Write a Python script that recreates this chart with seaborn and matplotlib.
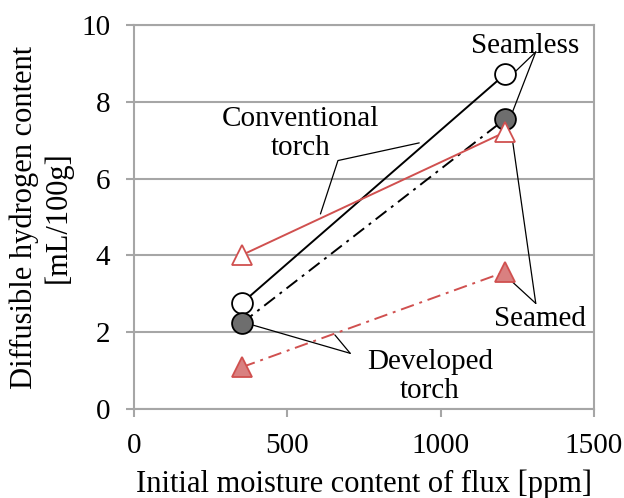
import matplotlib
matplotlib.use("Agg")
import matplotlib.pyplot as plt
import seaborn as sns
import pandas as pd

# Initial moisture content of flux [ppm]
moisture = [352, 1210]

# Diffusible hydrogen content [mL/100g]
seamless_conventional = [2.76, 8.72]
seamless_developed = [2.24, 7.55]
seamed_conventional = [4.01, 7.21]
seamed_developed = [1.09, 3.57]

xticks = [0, 500, 1000, 1500]
yticks = [0, 2, 4, 6, 8, 10]

sns.set_theme(style="white")
plt.rcParams["font.family"] = ["Liberation Serif", "DejaVu Serif"]
plt.rcParams["text.color"] = "black"
plt.rcParams["axes.labelcolor"] = "black"

fig = plt.figure(figsize=(6.24, 4.98), dpi=100)
ax = fig.add_axes([0.2147, 0.1787, 0.7373, 0.7711])

RED = "#d0504f"
RED_FILL = "#d98080"
GRAY = "#a6a6a6"

series = [
    (seamless_conventional, dict(color="black", linestyle="-", marker="o",
                                 markersize=15, markerfacecolor="white",
                                 markeredgecolor="black", markeredgewidth=1.3)),
    (seamless_developed, dict(color="black", dashes=(7, 3, 1.5, 3), marker="o",
                              markersize=15, markerfacecolor="#6e6e6e",
                              markeredgecolor="black", markeredgewidth=1.3)),
    (seamed_conventional, dict(color=RED, linestyle="-", marker="^",
                               markersize=15, markerfacecolor="white",
                               markeredgecolor=RED, markeredgewidth=1.3)),
    (seamed_developed, dict(color=RED, dashes=(7, 3, 1.5, 3), marker="^",
                            markersize=15, markerfacecolor=RED_FILL,
                            markeredgecolor=RED, markeredgewidth=1.3)),
]

for values, style in series:
    df = pd.DataFrame({"moisture": moisture, "hydrogen": values})
    sns.lineplot(data=df, x="moisture", y="hydrogen", ax=ax, linewidth=1.4,
                 zorder=3, clip_on=False, **style)

ax.set_xlim(0, 1500)
ax.set_ylim(0, 10)
ax.set_xticks(xticks)
ax.set_yticks(yticks)
ax.set_xticklabels([str(t) for t in xticks])
ax.set_yticklabels([str(t) for t in yticks])
ax.yaxis.grid(True, color=GRAY, linewidth=1.5)
ax.xaxis.grid(False)
for sp in ax.spines.values():
    sp.set_color(GRAY)
    sp.set_linewidth(1.5)
ax.tick_params(axis="both", which="major", labelsize=21, labelcolor="black",
               length=6, width=1.5, color=GRAY, direction="out",
               bottom=True, left=True)
ax.tick_params(axis="x", pad=11)
ax.tick_params(axis="y", pad=11)
ax.set_xlabel("Initial moisture content of flux [ppm]", fontsize=22, labelpad=8)
ax.set_ylabel("Diffusible hydrogen content\n[mL/100g]", fontsize=22,
              labelpad=6, linespacing=1.2)

# Callout labels with leader lines (data coordinates)
lw = 0.9
txt = dict(fontsize=21, ha="center", va="center", zorder=5)

ax.text(1275, 9.45, "Seamless", **txt)
ax.plot([1310, 1245], [9.3, 8.8], color="black", lw=lw, zorder=2)
ax.plot([1310, 1230], [9.3, 7.65], color="black", lw=lw, zorder=2)

ax.text(542, 7.17, "Conventional\ntorch", linespacing=1.15, **txt)
ax.plot([930, 665, 608], [6.93, 6.47, 5.08], color="black", lw=lw, zorder=2)

ax.text(1324, 2.35, "Seamed", **txt)
ax.plot([1310, 1235], [2.75, 3.3], color="black", lw=lw, zorder=2)
ax.plot([1310, 1235], [2.75, 6.95], color="black", lw=lw, zorder=2)

ax.text(965, 0.84, "Developed\ntorch", linespacing=1.15, **txt)
ax.plot([705, 390], [1.45, 2.18], color="black", lw=lw, zorder=2)
ax.plot([705, 655], [1.45, 1.93], color="black", lw=lw, zorder=2)

fig.savefig("out.png", dpi=100)
